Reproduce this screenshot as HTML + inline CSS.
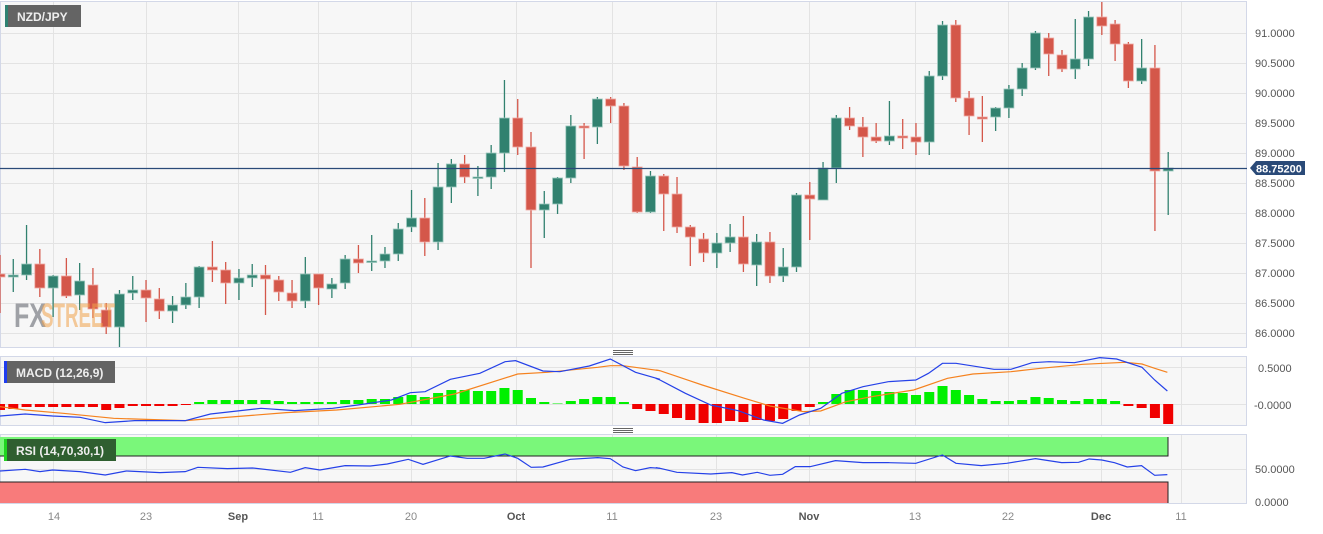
<!DOCTYPE html>
<html><head><meta charset="utf-8"><style>
html,body{margin:0;padding:0;background:#fff;}
body{width:1323px;height:529px;overflow:hidden;font-family:"Liberation Sans",sans-serif;}
svg text{font-family:"Liberation Sans",sans-serif;}
</style></head><body>
<svg id="s" width="1323" height="529" xmlns="http://www.w3.org/2000/svg">
<rect x="0" y="0" width="1323" height="529" fill="#fff"/>
<rect x="0.5" y="1.5" width="1246" height="346" fill="#f7f7f7" stroke="#d3d8e8"/>
<rect x="0.5" y="356.5" width="1246" height="69" fill="#f7f7f7" stroke="#d3d8e8"/>
<rect x="0.5" y="434.5" width="1246" height="69" fill="#f7f7f7" stroke="#d3d8e8"/>
<g id="grid" stroke="#e3e3e3" stroke-width="1"></g>
<rect x="0" y="437" width="1168" height="19" fill="#7af77a"/>
<rect x="0" y="482" width="1168" height="21" fill="#f87b7b"/>
<path d="M0 456H1168V437M0 482H1168V503" stroke="#222" fill="none" stroke-width="1"/>
<g id="cand"></g>
<g id="hist"></g>
<line x1="0" y1="168.5" x2="1247" y2="168.5" stroke="#2a4a78" stroke-width="1.2"/>
<g transform="translate(0,340) scale(0.4209,0.3333)" fill="none" stroke-width="1.2">
<polyline vector-effect="non-scaling-stroke" stroke="#f5821f" points="0,200 60,210 150,220 270,235 440,242 560,230 680,218 800,210 950,193 1080,162 1230,102 1300,97 1420,82 1450,77 1480,77 1568,92"/>
<polyline vector-effect="non-scaling-stroke" stroke="#2541e8" points="0,228 60,222 125,228 190,232 250,248 320,242 440,242 500,222 620,205 700,212 790,205 850,195 930,180 975,158 1010,155 1070,118 1140,100 1200,65 1225,62 1290,93 1330,95 1400,78 1450,57 1510,97 1568,118"/>
<polyline vector-effect="non-scaling-stroke" stroke="#2541e8" points="0,393 60,388 95,395 125,390 190,395 250,405 300,393 380,398 440,395 470,382 540,386 600,384 690,397 725,383 760,390 820,377 880,378 920,372 970,358 1005,373 1070,348 1110,355 1150,355 1200,342 1230,355 1262,382 1290,381 1355,358 1420,353 1450,356 1480,381 1510,392 1545,383 1568,385"/>
</g>
<g transform="translate(660,340) scale(0.4228,0.3333)" fill="none" stroke-width="1.2">
<polyline vector-effect="non-scaling-stroke" stroke="#f5821f" points="-10,90 0,92 100,135 200,175 260,198 340,215 380,213 440,185 500,170 600,150 680,115 740,102 830,95 900,85 1000,73 1100,67 1140,72 1170,85 1200,97"/>
<polyline vector-effect="non-scaling-stroke" stroke="#2541e8" points="-10,115 0,120 60,160 120,195 185,212 245,240 290,250 330,225 380,205 430,160 480,140 540,125 605,120 635,100 668,70 700,70 790,88 830,88 880,68 920,65 980,68 1040,53 1080,57 1140,82 1170,120 1200,153"/>
<polyline vector-effect="non-scaling-stroke" stroke="#2541e8" points="-10,383 0,385 40,397 120,402 170,398 195,405 230,397 260,406 290,403 320,380 355,380 415,362 480,368 540,368 605,370 668,345 700,370 760,377 820,370 888,356 950,368 990,367 1015,357 1045,360 1075,368 1105,381 1139,377 1170,406 1200,404"/>
</g>
<text x="14" y="327" font-size="34" font-weight="bold" fill="#8f9298" fill-opacity="0.85" textLength="32" lengthAdjust="spacingAndGlyphs">FX</text>
<text x="41" y="327" font-size="34" font-weight="bold" fill="#f1a24a" fill-opacity="0.55" textLength="74" lengthAdjust="spacingAndGlyphs">STREET</text>
<rect x="5" y="5" width="76" height="22" fill="#646464"/><rect x="5" y="5" width="3" height="22" fill="#2f8272"/>
<text x="17" y="21" font-size="12" font-weight="bold" fill="#eee">NZD/JPY</text>
<rect x="4" y="361" width="111" height="22" fill="#646464"/><rect x="4" y="361" width="3" height="22" fill="#1e3cf0"/>
<text x="16" y="377" font-size="12" font-weight="bold" fill="#eee">MACD (12,26,9)</text>
<rect x="4" y="439" width="112" height="22" fill="#2f5f30"/><rect x="4" y="439" width="3" height="22" fill="#1fd41f"/>
<text x="16" y="455" font-size="12" font-weight="bold" fill="#eee">RSI (14,70,30,1)</text>
<path d="M613 350.5H633M613 352.5H633M613 354.5H633M613 428.5H633M613 430.5H633M613 432.5H633" stroke="#666" stroke-width="1"/>
<g font-size="11" fill="#555">
<text x="1255" y="37">91.0000</text><text x="1255" y="67">90.5000</text><text x="1255" y="97">90.0000</text>
<text x="1255" y="127">89.5000</text><text x="1255" y="157">89.0000</text><text x="1255" y="187">88.5000</text>
<text x="1255" y="217">88.0000</text><text x="1255" y="247">87.5000</text><text x="1255" y="277">87.0000</text>
<text x="1255" y="307">86.5000</text><text x="1255" y="337">86.0000</text>
<text x="1258" y="372">0.5000</text><text x="1254" y="409">-0.0000</text>
<text x="1255" y="473">50.0000</text><text x="1255" y="506">0.0000</text>
</g>
<path d="M1250 168L1256 161H1305V175H1256Z" fill="#2a4a78"/>
<text x="1256" y="172.5" font-size="11" font-weight="bold" fill="#fff">88.75200</text>
<g font-size="11" fill="#888" text-anchor="middle">
<text x="54" y="520">14</text><text x="146" y="520">23</text><text x="238" y="520" fill="#555" font-weight="bold">Sep</text>
<text x="318" y="520">11</text><text x="411" y="520">20</text><text x="516" y="520" fill="#555" font-weight="bold">Oct</text>
<text x="612" y="520">11</text><text x="716" y="520">23</text><text x="809" y="520" fill="#555" font-weight="bold">Nov</text>
<text x="915" y="520">13</text><text x="1008" y="520">22</text><text x="1101" y="520" fill="#555" font-weight="bold">Dec</text>
<text x="1181" y="520">11</text>
</g>
</svg>
<script>
var NS="http://www.w3.org/2000/svg";
function el(p,t,a){var e=document.createElementNS(NS,t);for(var k in a)e.setAttribute(k,a[k]);p.appendChild(e);return e;}
var g=document.getElementById('grid');
[53,146,238,318,411,516,612,716,809,915,1008,1101,1181].forEach(function(x){
 el(g,'line',{x1:x+.5,y1:2,x2:x+.5,y2:347});el(g,'line',{x1:x+.5,y1:357,x2:x+.5,y2:425});el(g,'line',{x1:x+.5,y1:435,x2:x+.5,y2:503});});
for(var y=33;y<=333;y+=30)el(g,'line',{x1:1,y1:y+.5,x2:1246,y2:y+.5});
[367,404].forEach(function(y){el(g,'line',{x1:1,y1:y+.5,x2:1246,y2:y+.5});});
[469].forEach(function(y){el(g,'line',{x1:1,y1:y+.5,x2:1246,y2:y+.5});});
var C=[[0,274,277,255,313],[1,275,277,259,292],[1,264,275,225,280],[0,264,288,249,297],[1,276,288,275,317],[0,276,296,258,298],[1,281,295,263,310],[0,285,309,268,318],[0,310,327,303,334],[1,294,327,290,347],
[1,290,293,276,300],[0,290,298,280,322],[0,299,311,288,319],[1,305,311,296,323],[1,297,305,283,309],[1,267,297,266,308],[0,267,270,241,282],[0,270,283,262,304],[1,278,283,269,300],[1,275,278,264,287],
[0,275,279,265,315],[0,280,292,276,301],[0,293,301,280,308],[1,274,301,257,308],[0,274,288,274,305],[1,284,289,278,298],[1,259,283,255,289],[0,259,263,245,273],[1,261,262,235,271],[1,254,261,247,268],
[1,229,254,223,261],[1,218,227,190,232],[0,218,242,198,256],[1,187,242,163,250],[1,164,187,159,203],[0,164,177,155,183],[1,177,178,166,196],[1,153,177,145,189],[1,118,153,80,172],[0,118,147,99,155],
[0,147,210,132,268],[1,204,210,191,238],[1,178,204,177,214],[1,126,178,115,183],[0,126,128,123,159],[1,99,127,97,144],[0,99,106,97,123],[0,106,166,103,170],[0,167,212,157,213],[1,176,212,171,213],
[0,176,194,174,231],[0,194,227,177,233],[0,227,237,225,266],[0,239,253,233,262],[1,243,253,233,268],[1,237,243,224,252],[0,237,264,216,272],[1,242,265,234,286],[0,242,276,232,283],[1,267,276,248,282],
[1,195,267,193,272],[0,195,199,182,240],[1,168,200,162,200],[1,118,168,115,183],[0,118,126,107,130],[0,127,137,117,157],[0,137,141,123,143],[1,136,141,101,145],[0,136,138,119,149],[0,137,142,123,155],
[1,76,142,71,155],[1,25,76,21,80],[0,25,98,20,102],[0,98,116,91,135],[0,117,119,96,142],[1,108,117,107,131],[1,89,108,85,118],[1,68,89,63,96],[1,33,68,31,70],[0,38,54,33,76],
[0,55,69,50,72],[1,59,69,19,79],[1,17,59,11,66],[0,17,26,2,35],[0,24,44,20,61],[0,44,81,42,88],[1,68,81,39,84],[0,68,171,45,231],[1,168,171,152,215]];
var cg=document.getElementById('cand'),sp=13.275;
C.forEach(function(c,i){var x=i*sp,col=c[0]?'#31816f':'#d4574a',st=c[0]?'#9cc7bd':'#efaaa3';
 el(cg,'line',{x1:x,y1:c[3],x2:x,y2:c[4],stroke:col,'stroke-width':1.3});
 var h=Math.max(1.5,c[2]-c[1]);
 el(cg,'rect',{x:x-5,y:c[1],width:10,height:h,fill:col,stroke:st,'stroke-width':0.8});});
var H=[-6,-5,-3,-3,-3,-3,-3,-3,-6,-4,-2,-2,-2,-2,-1,2,4,4,4,4,4,3,2,2,2,2,4,4,5,5,7,9,7,11,14,14,13,13,16,14,6,2,0.5,3,5,7,7,2,-5,-7,
-10,-14,-16,-19,-19,-17,-18,-16,-17,-15,-7,-3,2,10,14,14,13,12,11,9,12,18,14,9,5,3,3,4,7,6,4,3,5,5,3,-2,-4,-14,-20];
var hg=document.getElementById('hist');
H.forEach(function(v,i){var x=i*sp;var y=v>0?404-v:404;el(hg,'rect',{x:x-5,y:y,width:10,height:Math.abs(v),fill:v>0?'#00f000':'#f00000'});});
</script>
</body></html>
